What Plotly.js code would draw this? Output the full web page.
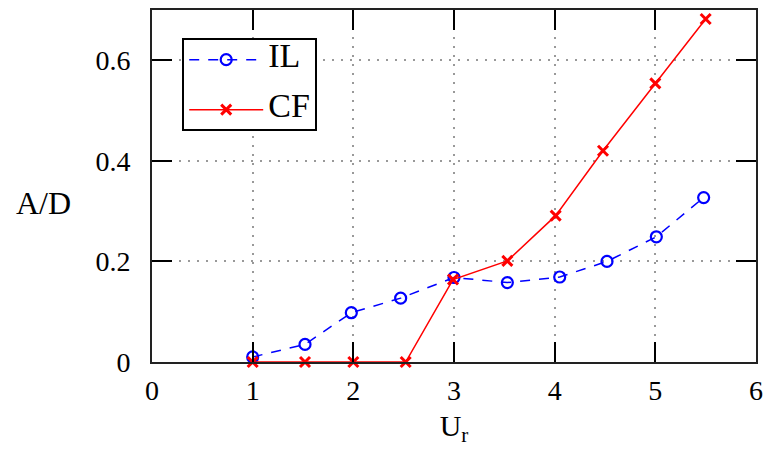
<!DOCTYPE html>
<html>
<head>
<meta charset="utf-8">
<script src="https://cdn.plot.ly/plotly-3.0.1.min.js"></script>
<style>html,body{margin:0;padding:0;background:#fff;}</style>
</head>
<body>
<div id="chart" style="width:764px;height:451px;"></div>
<script>
var ilX = [1.0, 1.52, 1.98, 2.47, 3.0, 3.53, 4.05, 4.52, 5.01, 5.48];
var ilY = [0.010, 0.035, 0.098, 0.127, 0.168, 0.158, 0.169, 0.200, 0.249, 0.327];
var cfX = [1.0, 1.52, 2.0, 2.52, 2.99, 3.53, 4.01, 4.48, 5.0, 5.5];
var cfY = [0.0, 0.0, 0.0, 0.0, 0.164, 0.201, 0.291, 0.420, 0.554, 0.682];
var seriesNames = ['IL', 'CF'];
var xTicks = [0, 1, 2, 3, 4, 5, 6];
var yTicks = [0, 0.2, 0.4, 0.6];
var yTickText = ['0', '0.2', '0.4', '0.6'];

var FONT = 'Liberation Serif, Times New Roman, serif';

function legendName(s) {
  return '<span style="font-size:34px">' + s + '</span>';
}

var traces = [
  {
    x: ilX, y: ilY, name: legendName(seriesNames[0]), type: 'scatter', mode: 'lines+markers',
    legendgroup: 'a',
    line: {color: '#0000ff', width: 1.5, dash: '10px,9px'},
    marker: {symbol: 'circle-open', size: 11, color: '#0000ff', line: {width: 2.2, color: '#0000ff'}},
    cliponaxis: false
  },
  {
    x: cfX, y: cfY, name: legendName(seriesNames[1]), type: 'scatter', mode: 'lines+markers',
    legendgroup: 'b',
    line: {color: '#ff0000', width: 1.5},
    marker: {symbol: 'x-thin-open', size: 10, color: '#ff0000', line: {width: 3, color: '#ff0000'}},
    cliponaxis: false
  }
];

var axisCommon = {
  showline: true, linecolor: '#222', linewidth: 2, mirror: 'ticks',
  ticks: 'inside', ticklen: 20, tickwidth: 2, tickcolor: '#000',
  showgrid: true, gridcolor: '#999', gridwidth: 2, griddash: '2px,7px',
  zeroline: false,
  tickfont: {family: FONT, size: 28, color: '#000'}
};

var layout = {
  width: 764, height: 451,
  margin: {l: 152, r: 8, t: 10, b: 89},
  paper_bgcolor: '#fff', plot_bgcolor: '#fff',
  showlegend: true,
  legend: {
    x: 0.05, y: 0.92, xanchor: 'left', yanchor: 'top',
    bordercolor: '#000', borderwidth: 2, bgcolor: '#fff',
    font: {family: FONT, size: 20, color: '#000'},
    itemwidth: 74, tracegroupgap: 21, traceorder: 'grouped'
  },
  xaxis: Object.assign({}, axisCommon, {
    range: [0, 6], tickvals: xTicks, ticktext: xTicks.map(String),
    ticklabelstandoff: 2,
    title: {text: 'U<sub>r</sub>', font: {family: FONT, size: 30, color: '#000'}, standoff: 10}
  }),
  yaxis: Object.assign({}, axisCommon, {
    range: [0, 0.7], tickvals: yTicks, ticktext: yTickText,
    ticklabelstandoff: 14
  }),
  annotations: [{
    text: 'A/D', xref: 'paper', yref: 'paper', x: -0.179, y: 0.452,
    xanchor: 'center', yanchor: 'middle', showarrow: false,
    font: {family: FONT, size: 32, color: '#000'}
  }]
};

Plotly.newPlot('chart', traces, layout, {displayModeBar: false, staticPlot: true});
</script>
</body>
</html>
